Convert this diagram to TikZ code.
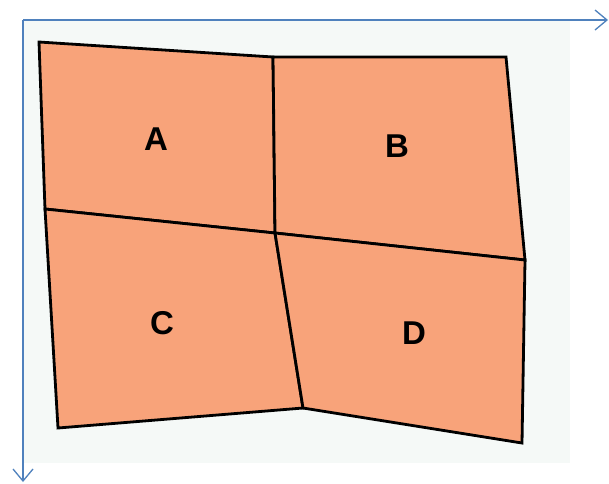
\documentclass[tikz,border=0pt]{standalone}
\usepackage{fontspec}
\setmainfont{Liberation Sans}
\usetikzlibrary{arrows.meta}

\begin{document}
\begin{tikzpicture}[x=1pt,y=-1pt,>={Straight Barb[length=12pt,width=20pt]},font=\bfseries\fontsize{33}{36}\selectfont]
      \definecolor{cAxis}{RGB}{79,129,189}
      \definecolor{cCell}{RGB}{248,163,122}
      \definecolor{cBg}{RGB}{245,249,247}
      \tikzset{cell/.style={fill=cCell,draw=black,line width=2.8pt,line join=miter}}
      \useasboundingbox (0,0) rectangle (609,483);
      \fill[cBg] (23,20) rectangle (570,463);
      % corner points of the cells
      \coordinate (tl) at (39,42);
      \coordinate (tm) at (273,57);
      \coordinate (tr) at (506,57);
      \coordinate (ml) at (45,209);
      \coordinate (mc) at (275,233);
      \coordinate (mr) at (525,260);
      \coordinate (bl) at (58,428);
      \coordinate (bm) at (303,408);
      \coordinate (br) at (522,443);
      \draw[cell] (tl)--(tm)--(mc)--(ml)--cycle;
      \draw[cell] (tm)--(tr)--(mr)--(mc)--cycle;
      \draw[cell] (ml)--(mc)--(bm)--(bl)--cycle;
      \draw[cell] (mc)--(mr)--(br)--(bm)--cycle;
      \node (labA) at (156,139) {A};
      \node (labB) at (397,146) {B};
      \node (labC) at (162,323) {C};
      \node (labD) at (414,333) {D};
      % axes
      \coordinate (o) at (23,20);
      \coordinate (xe) at (608,20);
      \coordinate (ye) at (23,482);
      \draw[cAxis,line width=1.3pt,->] (o)--(xe);
      \draw[cAxis,line width=1.3pt,->] (o)--(ye);
    \end{tikzpicture}
\end{document}
